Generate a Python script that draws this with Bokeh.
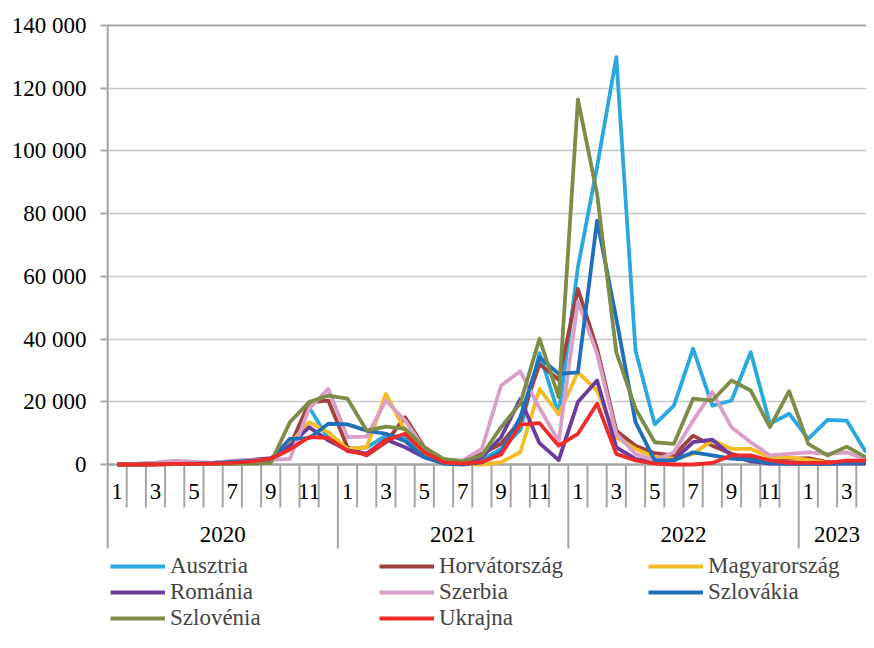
from bokeh.plotting import figure
from bokeh.models import Range1d, FixedTicker, Span, Legend, LegendItem
from bokeh.core.properties import value
from bokeh.embed import file_html
from bokeh.resources import INLINE

# ---------------- data ----------------
years = ["2020", "2021", "2022", "2023"]
months_per_year = [12, 12, 12, 4]
month_labels_shown = ["1", "3", "5", "7", "9", "11"]

ausztria = [0, 100, 500, 700, 300, 200, 300, 500, 1500, 5000, 18300, 8200,
            5000, 5500, 9200, 8700, 4000, 1000, 500, 1500, 5000, 11000, 35500, 16000,
            62900, 95000, 129900, 36400, 12800, 18800, 36900, 18800, 20400, 35800, 13000, 16200,
            8200, 14200, 14000, 3900]
horvatorszag = [0, 0, 200, 300, 300, 300, 500, 800, 1800, 5700, 19800, 20400,
                5500, 2900, 7100, 15100, 5500, 1300, 500, 3400, 6600, 14000, 32000, 27000,
                56000, 36900, 10800, 6000, 3600, 2900, 9200, 6000, 3400, 1800, 1500, 1800,
                2000, 800, 500, 500]
magyarorszag = [0, 0, 100, 200, 200, 200, 300, 500, 1500, 6600, 13500, 10300,
                5000, 5500, 22500, 10800, 3400, 1000, 300, 0, 700, 3900, 24100, 16000,
                29400, 23600, 8700, 5000, 2300, 1900, 3400, 7700, 5000, 5000, 2300, 2300,
                1500, 500, 500, 500]
romania = [0, 0, 100, 200, 300, 500, 1000, 1500, 2000, 6000, 11900, 7700,
           4500, 3500, 8000, 5500, 2300, 500, 300, 2300, 8700, 20900, 6800, 1400,
           19900, 26800, 5500, 1800, 500, 1500, 7100, 7900, 2900, 1000, 300, 300,
           300, 300, 300, 300]
szerbia = [0, 300, 600, 1200, 800, 500, 1200, 1500, 1500, 1800, 17800, 24100,
           8700, 8900, 20400, 14000, 5000, 1500, 1300, 5000, 25200, 29700, 18000, 7400,
           52000, 35300, 9800, 3400, 1300, 3900, 14000, 23100, 11900, 7100, 2900, 3400,
           3900, 3400, 3900, 1500]
szlovakia = [0, 0, 100, 200, 300, 400, 800, 1200, 1500, 8200, 8400, 13000,
             12800, 10800, 9800, 7500, 2300, 300, 0, 700, 3900, 15100, 34200, 28900,
             29400, 77800, 46500, 13500, 1300, 1300, 3900, 2900, 1900, 1500, 500, 300,
             200, 200, 500, 500]
szlovenia = [0, 0, 0, 100, 100, 100, 200, 300, 500, 13500, 19900, 22000,
             21000, 10800, 12100, 11400, 5500, 1800, 1000, 2900, 11900, 19500, 40100, 21500,
             116400, 86300, 35800, 17800, 7100, 6600, 21000, 20400, 26800, 23600, 11900, 23400,
             6600, 2900, 5700, 2300]
ukrajna = [0, 0, 0, 200, 200, 300, 500, 1000, 1800, 4800, 8700, 8500,
           4300, 3200, 7700, 9800, 3900, 700, 300, 800, 3200, 12700, 13200, 6000,
           9800, 19400, 3400, 1300, 300, 0, 0, 500, 2900, 2900, 1300, 500,
           500, 500, 1200, 1200]

series_names = ["Ausztria", "Horvátország", "Magyarország", "Románia",
                "Szerbia", "Szlovákia", "Szlovénia", "Ukrajna"]
series_values = [ausztria, horvatorszag, magyarorszag, romania,
                 szerbia, szlovakia, szlovenia, ukrajna]
series_colors = ["#2aa8e0", "#a0413d", "#f6bc24", "#6b3c9e",
                 "#d8a0c9", "#1f6fbb", "#7d8d47", "#ee2b2b"]
y_ticks = [0, 20000, 40000, 60000, 80000, 100000, 120000, 140000]

# ---------------- layout constants ----------------
FONT = "Liberation Serif"
GREY = "#a6a6a6"
FIG_W, FIG_H = 866, 632
LEFT, TOP = 106, 23          # frame origin in the picture
TOP_PAD = 2                  # px between frame top and the top value line
ZERO_PX = 439                # px from the top value line to the 0 line
AXIS_PX = 84                 # category-axis depth below the 0 line
PX_X = 19.2                  # px per month
Y_MAX = y_ticks[-1]
UPP = Y_MAX / ZERO_PX        # data units per pixel
FRAME_H = FIG_H - TOP
Y_END = Y_MAX + TOP_PAD * UPP
Y_MIN = -(FRAME_H - ZERO_PX - TOP_PAD) * UPP
X0 = -0.5 - 1.0 / PX_X
X1 = X0 + (FIG_W - LEFT) / PX_X

n_months = sum(months_per_year)
x_idx = list(range(n_months))
month_num = [m for n in months_per_year for m in range(1, n + 1)]

p = figure(width=FIG_W, height=FIG_H, output_backend="svg", toolbar_location=None,
           x_range=Range1d(X0, X1), y_range=Range1d(Y_MIN, Y_END),
           x_axis_location=None, min_border_left=LEFT, min_border_right=0,
           min_border_top=TOP, min_border_bottom=0)
p.outline_line_color = None
p.background_fill_color = "white"
p.border_fill_color = "white"

# y axis (its line is drawn below, so it stops at the end of the category axis)
p.yaxis.ticker = FixedTicker(ticks=y_ticks)
p.yaxis.major_label_overrides = {t: f"{t:,}".replace(",", " ") for t in y_ticks}
p.yaxis.axis_line_color = None
p.yaxis.major_tick_line_color = GREY
p.yaxis.major_tick_line_width = 2
p.yaxis.major_tick_out = 6
p.yaxis.major_tick_in = 0
p.yaxis.minor_tick_line_color = None
p.yaxis.major_label_standoff = 14
p.yaxis.major_label_text_font = FONT
p.yaxis.major_label_text_font_size = "23px"
p.yaxis.major_label_text_color = "black"

p.xgrid.visible = False
p.ygrid.ticker = FixedTicker(ticks=y_ticks[1:-1])
p.ygrid.grid_line_color = "#c8c8c8"
p.ygrid.grid_line_width = 1.6

axis_bottom = -AXIS_PX * UPP
p.segment(x0=[-0.5], y0=[Y_MAX], x1=[-0.5], y1=[axis_bottom], line_color=GREY, line_width=2.5)

# top value line and 0 line in the axis colour
p.add_layout(Span(location=Y_MAX, dimension="width", line_color=GREY, line_width=2.2, level="underlay"))
p.add_layout(Span(location=0, dimension="width", line_color=GREY, line_width=2.5, level="underlay"))

# category axis drawn from the month / year lists
bounds = [i + 0.5 for i in x_idx[:-1]]
year_starts = []
acc = 0
for n in months_per_year:
    year_starts.append(acc)
    acc += n
year_bounds = [s - 0.5 for s in year_starts[1:]]
month_bounds = [b for b in bounds if b not in year_bounds]
p.segment(x0=month_bounds, y0=[0] * len(month_bounds), x1=month_bounds,
          y1=[-43 * UPP] * len(month_bounds), line_color=GREY, line_width=2)
p.segment(x0=year_bounds, y0=[0] * len(year_bounds), x1=year_bounds,
          y1=[axis_bottom] * len(year_bounds), line_color=GREY, line_width=2)

lab_x = [i for i in x_idx if str(month_num[i]) in month_labels_shown]
lab_t = [str(month_num[i]) for i in lab_x]
p.text(x=lab_x, y=[-27 * UPP] * len(lab_x), text=lab_t, text_align="center",
       text_baseline="middle", text_font=value(FONT), text_font_size="23px", text_color="black")
year_centers = [s + n / 2 - 0.5 for s, n in zip(year_starts, months_per_year)]
p.text(x=year_centers, y=[-70 * UPP] * len(years), text=years, text_align="center",
       text_baseline="middle", text_font=value(FONT), text_font_size="23px", text_color="black")

# series
items = []
for name, vals, col in zip(series_names, series_values, series_colors):
    r = p.line(x=x_idx, y=vals, line_color=col, line_width=3.8, line_join="round")
    items.append(LegendItem(label=name, renderers=[r]))

legend = Legend(items=items, orientation="horizontal", ncols=3, location=(4, 1),
                border_line_color=None, background_fill_alpha=0, padding=0, margin=0,
                spacing=-2, label_text_font=FONT, label_text_font_size="23px",
                glyph_width=55, glyph_height=22, label_height=22, label_standoff=5,
                label_width=209)
p.add_layout(legend, "center")

open("out.html", "w").write(file_html(p, INLINE))
